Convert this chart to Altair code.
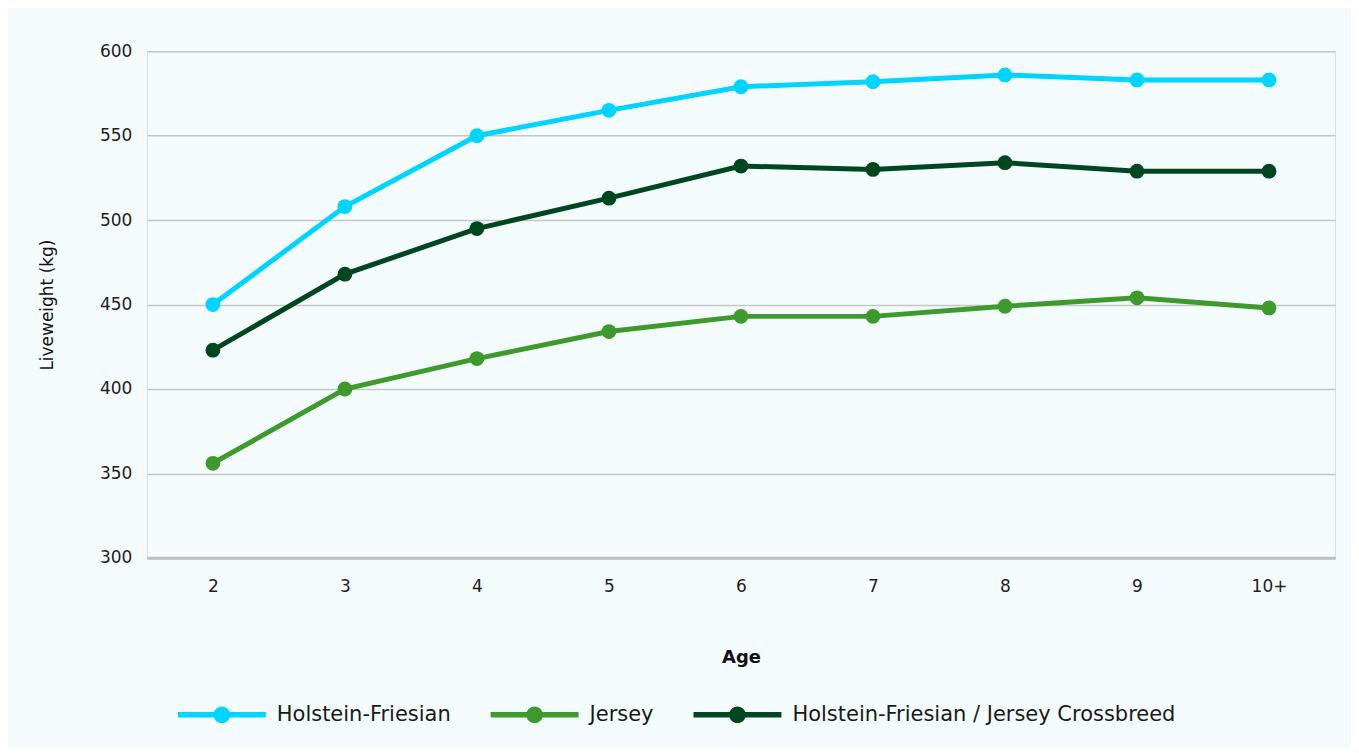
import altair as alt
import pandas as pd

ages = ["2", "3", "4", "5", "6", "7", "8", "9", "10+"]
holstein = [450, 508, 550, 565, 579, 582, 586, 583, 583]
jersey = [356, 400, 418, 434, 443, 443, 449, 454, 448]
cross = [423, 468, 495, 513, 532, 530, 534, 529, 529]
series = ["Holstein-Friesian", "Jersey", "Holstein-Friesian / Jersey Crossbreed"]
colors = ["#00D4FF", "#3E9A2C", "#00471F"]

rows = []
for name, vals in zip(series, [holstein, jersey, cross]):
    for a, v in zip(ages, vals):
        rows.append({"Age": a, "Liveweight": v, "Breed": name})
df = pd.DataFrame(rows)

FONT = "DejaVu Sans"
sym = ("M-1,-0.06 L-0.17,-0.06 L-0.17,0.06 L-1,0.06 Z "
       "M0.17,-0.06 L1,-0.06 L1,0.06 L0.17,0.06 Z "
       "M-0.19,0 A0.19,0.19 0 1,1 0.19,0 A0.19,0.19 0 1,1 -0.19,0 Z")

x = alt.X("Age:N", sort=ages, title="Age",
          scale=alt.Scale(type="point", padding=0.5),
          axis=alt.Axis(labelAngle=0, ticks=False, labelPadding=21, titlePadding=54,
                        domainColor="#BDBDBD", domainWidth=3, grid=False,
                        labelFontSize=17, titleFontSize=18, titleFontWeight="bold"))
y = alt.Y("Liveweight:Q", title="Liveweight (kg)",
          scale=alt.Scale(domain=[300, 600], nice=False, zero=False),
          axis=alt.Axis(values=[300, 350, 400, 450, 500, 550, 600], ticks=False, domain=False,
                        labelPadding=15, titlePadding=43, gridColor="#C6C6C6", gridWidth=1.5,
                        labelFontSize=17, titleFontSize=17, titleFontWeight="normal"))
color = alt.Color("Breed:N", sort=series,
                  scale=alt.Scale(domain=series, range=colors),
                  legend=alt.Legend(title=None, orient="none", direction="horizontal",
                                    legendX=31, legendY=620, labelLimit=0,
                                    symbolType=sym, symbolSize=7744, symbolStrokeWidth=0,
                                    labelFontSize=21, labelOffset=11, columnPadding=39,
                                    labelColor="#1a1a1a"))

base = alt.Chart(df)
lines = base.mark_line(strokeWidth=5).encode(x=x, y=y, color=color)
points = base.mark_point(filled=True, size=220, opacity=1).encode(x=x, y=y, color=color)

chart = (lines + points).properties(
    width=1189, height=507,
    autosize=alt.AutoSizeParams(type="none"),
    padding={"left": 139, "top": 43, "right": 16, "bottom": 190},
    background="#F4FBFD",
).configure_view(strokeWidth=0, strokeOpacity=0).configure(font=FONT).configure_axis(
    labelColor="#222222", titleColor="#111111", labelFont=FONT, titleFont=FONT
).configure_legend(labelFont=FONT)

chart.save("out.html", embed_options={"renderer": "svg", "actions": False})
